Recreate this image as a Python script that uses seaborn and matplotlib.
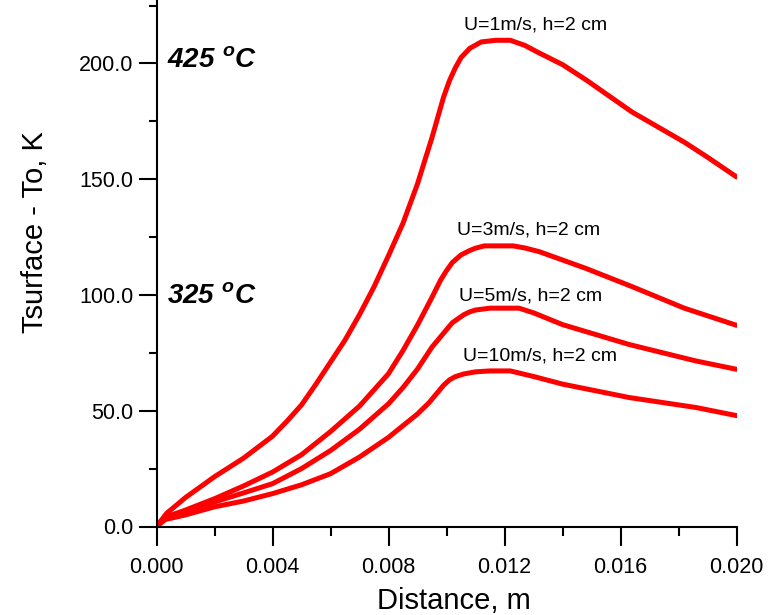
import matplotlib
matplotlib.use("Agg")
import matplotlib.pyplot as plt
from matplotlib import font_manager
from matplotlib.ticker import MultipleLocator, FormatStrFormatter
import pandas as pd
import seaborn as sns

# Surface temperature rise along the plate for four air speeds (h = 2 cm)
dist_u1 = [0.0, 0.00035, 0.001, 0.002, 0.003, 0.004, 0.0045, 0.005, 0.0055, 0.006,
           0.0065, 0.007, 0.0075, 0.008, 0.0085, 0.009, 0.0095, 0.0099, 0.0101,
           0.0103, 0.0105, 0.0108, 0.0112, 0.0117, 0.0122, 0.0127, 0.0132, 0.014,
           0.0148, 0.0156, 0.0164, 0.0173, 0.0182, 0.019, 0.020]
dT_u1 = [0.0, 5.7, 12.5, 21.5, 29.5, 39.0, 45.5, 52.5, 61.5, 71.0,
         80.5, 91.5, 103.5, 117.0, 131.0, 148.0, 168.0, 185.5, 192.5,
         198.0, 202.5, 206.5, 209.3, 210.0, 210.0, 207.8, 204.5, 199.5,
         193.0, 186.0, 179.0, 172.5, 166.0, 159.5, 151.0]

dist_u3 = [0.0, 0.0003, 0.001, 0.002, 0.003, 0.004, 0.005, 0.006, 0.007, 0.008,
           0.0085, 0.009, 0.0095, 0.0098, 0.010, 0.0102, 0.0105, 0.0108, 0.011,
           0.0113, 0.0123, 0.0127, 0.0132, 0.0148, 0.0164, 0.0182, 0.020]
dT_u3 = [0.0, 4.0, 7.1, 12.0, 17.5, 23.5, 31.0, 41.0, 52.0, 66.0,
         76.0, 87.0, 99.0, 106.5, 110.5, 114.0, 117.3, 119.2, 120.2,
         121.2, 121.2, 120.3, 118.7, 111.5, 103.6, 94.3, 86.9]

dist_u5 = [0.0, 0.0003, 0.001, 0.002, 0.003, 0.004, 0.005, 0.006, 0.007, 0.008,
           0.0085, 0.009, 0.0095, 0.010, 0.0102, 0.0106, 0.0108, 0.011, 0.0115,
           0.0125, 0.013, 0.014, 0.0163, 0.0186, 0.020]
dT_u5 = [0.0, 3.5, 6.0, 10.6, 14.5, 18.5, 25.0, 32.8, 42.0, 53.0,
         60.0, 68.0, 77.5, 85.0, 88.0, 91.5, 92.7, 93.5, 94.3,
         94.3, 92.3, 87.2, 78.6, 71.5, 67.9]

dist_u10 = [0.0, 0.0003, 0.001, 0.002, 0.003, 0.004, 0.005, 0.006, 0.007, 0.008,
            0.009, 0.0094, 0.0097, 0.0099, 0.0101, 0.0103, 0.0106, 0.011, 0.0115,
            0.0122, 0.013, 0.014, 0.0163, 0.0186, 0.020]
dT_u10 = [0.0, 3.0, 5.0, 8.5, 11.0, 14.2, 18.0, 22.8, 30.0, 38.5,
          48.6, 53.5, 58.0, 61.0, 63.3, 64.7, 65.9, 66.8, 67.2,
          67.2, 64.8, 61.5, 55.7, 51.4, 47.9]

case_labels = ["U=1m/s, h=2 cm", "U=3m/s, h=2 cm", "U=5m/s, h=2 cm", "U=10m/s, h=2 cm"]
label_x = [0.0106, 0.01035, 0.01042, 0.01056]
label_y = [214.6, 126.2, 97.5, 71.6]

temp_labels = ["425", "325"]
temp_y = [198.6, 96.4]

x_ticks = [0.000, 0.004, 0.008, 0.012, 0.016, 0.020]
y_ticks = [0, 50, 100, 150, 200]

sns.set_style("ticks")
available = {f.name for f in font_manager.fontManager.ttflist}
label_family = "Liberation Sans Narrow" if "Liberation Sans Narrow" in available else "Liberation Sans"
plt.rcParams["font.family"] = ["Liberation Sans", "DejaVu Sans"]
plt.rcParams["mathtext.fontset"] = "custom"
plt.rcParams["mathtext.bf"] = "Liberation Sans:italic:bold"
plt.rcParams["mathtext.rm"] = "Liberation Sans:italic:bold"
plt.rcParams["mathtext.it"] = "Liberation Sans:italic:bold"

frames = []
for name, xs, ys in zip(case_labels, [dist_u1, dist_u3, dist_u5, dist_u10],
                        [dT_u1, dT_u3, dT_u5, dT_u10]):
    frames.append(pd.DataFrame({"distance": xs, "dT": ys, "case": name}))
df = pd.concat(frames, ignore_index=True)

fig = plt.figure(figsize=(7.71, 6.15), dpi=100)
ax = fig.add_axes([156.5 / 771, 1 - 526.5 / 615, 580 / 771, 526.5 / 615])

sns.lineplot(data=df, x="distance", y="dT", hue="case", hue_order=case_labels,
             palette=["#ff0000"] * 4, estimator=None, sort=False, legend=False,
             linewidth=3.6, ax=ax)
for line in ax.get_lines():
    line.set_solid_joinstyle("round")
    line.set_solid_capstyle("round")

ax.set_xlim(0, 0.020)
ax.set_ylim(0, 227.4)
ax.set_xticks(x_ticks)
ax.set_yticks(y_ticks)
ax.xaxis.set_minor_locator(MultipleLocator(0.002))
ax.yaxis.set_minor_locator(MultipleLocator(25))
ax.xaxis.set_major_formatter(FormatStrFormatter("%.3f"))
ax.yaxis.set_major_formatter(FormatStrFormatter("%.1f"))

for side in ("top", "right"):
    ax.spines[side].set_visible(False)
for side in ("left", "bottom"):
    ax.spines[side].set_linewidth(1.5)
    ax.spines[side].set_color("black")

ax.tick_params(axis="both", which="major", direction="out", width=1.5,
               color="black", labelsize=15.5, labelcolor="black")
ax.tick_params(axis="y", which="major", length=13, pad=3.5)
ax.tick_params(axis="x", which="major", length=14, pad=8)
ax.tick_params(axis="y", which="minor", direction="out", length=6, width=1.5, color="black")
ax.tick_params(axis="x", which="minor", direction="out", length=6.5, width=1.5, color="black")

label_size = 25 if label_family == "Liberation Sans Narrow" else 21
ax.set_xlabel("Distance, m", fontsize=label_size, family=label_family, color="black")
ax.set_ylabel("Tsurface - To, K", fontsize=label_size, family=label_family, color="black")
ax.xaxis.label.set_va("baseline")
ax.yaxis.label.set_va("baseline")
ax.xaxis.set_label_coords(0.513, -0.157)
ax.yaxis.set_label_coords(-0.195, 0.559)

for text, tx, ty in zip(case_labels, label_x, label_y):
    ax.text(tx, ty, text, fontsize=14, ha="left", va="baseline", color="black")

for temp, ty in zip(temp_labels, temp_y):
    ax.text(0.00035, ty, r"$\mathbf{" + temp + r"\ {}^{o}C}$", fontsize=20,
            ha="left", va="baseline", color="black")

fig.savefig("out.png", dpi=100)
